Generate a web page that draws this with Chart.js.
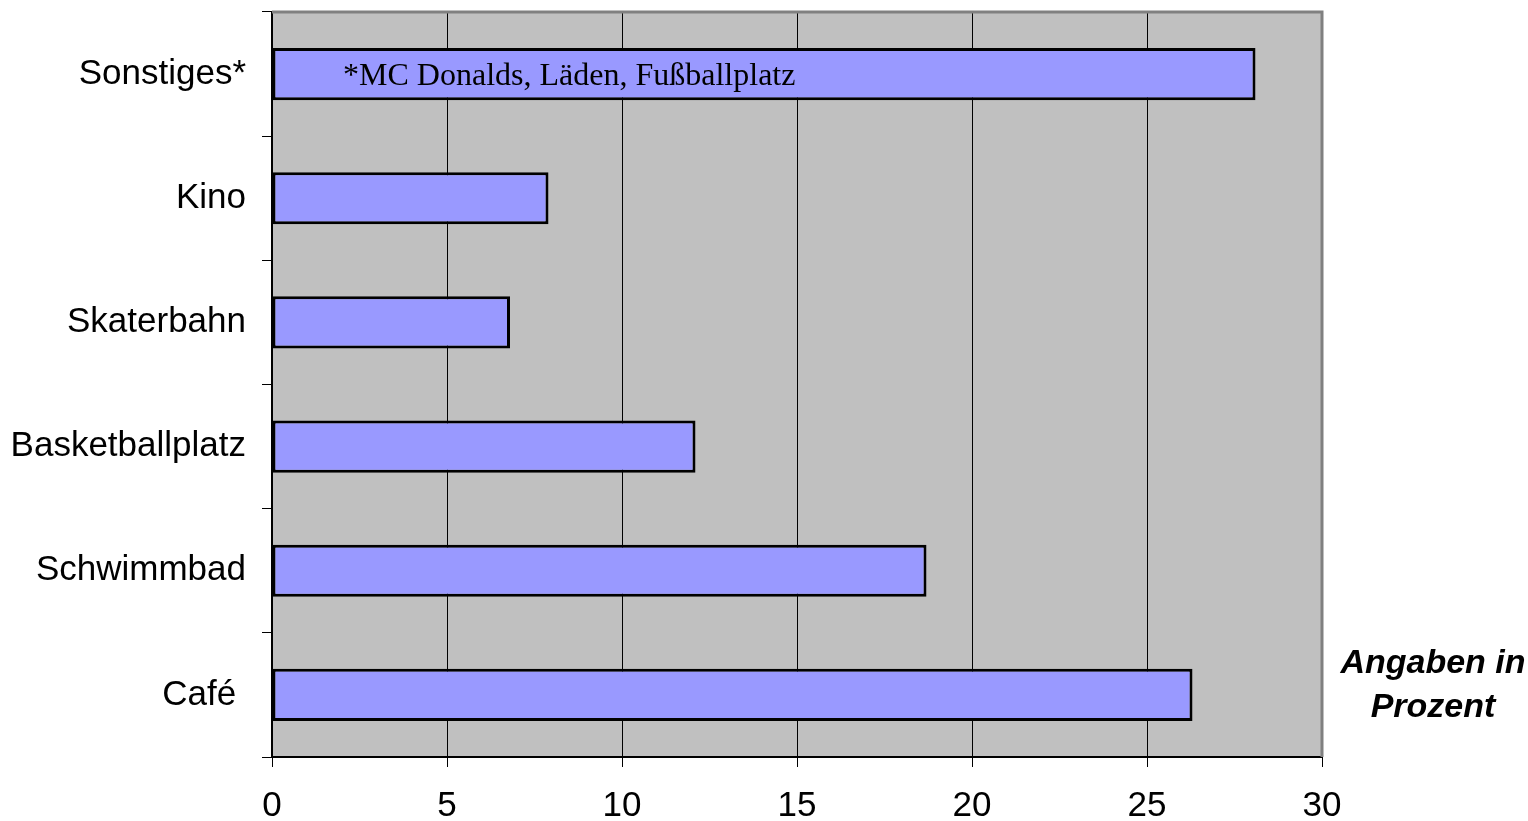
<!DOCTYPE html>
<html>
<head>
<meta charset="utf-8">
<script src="https://cdn.jsdelivr.net/npm/chart.js@4/dist/chart.umd.min.js"></script>
<style>
  html, body { margin: 0; padding: 0; background: #fff; }
  #wrap { width: 1528px; height: 821px; }
</style>
</head>
<body>
<div id="wrap"><canvas id="chart"></canvas></div>
<script>
// Data
const categories = ['Sonstiges*', 'Kino', 'Skaterbahn', 'Basketballplatz', 'Schwimmbad', 'Café '];
const percentValues = [28.1, 7.9, 6.8, 12.1, 18.7, 26.3];
const xTicks = [0, 5, 10, 15, 20, 25, 30];
const noteText = '*MC Donalds, Läden, Fußballplatz';
const unitLines = ['Angaben in', 'Prozent'];

// Gray plot area with a gray top/right frame
const plotBackground = {
    id: 'plotBackground',
    beforeDraw: function(chart) {
        const { ctx, chartArea: a } = chart;
        ctx.save();
        ctx.fillStyle = '#c0c0c0';
        ctx.fillRect(a.left, a.top, a.right - a.left, a.bottom - a.top);
        ctx.restore();
    },
    afterDatasetsDraw: function(chart) {
        const { ctx, chartArea: a } = chart;
        ctx.save();
        ctx.strokeStyle = '#808080';
        ctx.lineWidth = 3;
        ctx.beginPath();
        ctx.moveTo(a.left, a.top);
        ctx.lineTo(a.right, a.top);
        ctx.lineTo(a.right, a.bottom);
        ctx.stroke();
        ctx.restore();
    }
};

// Footnote inside the top bar and the unit note on the right
const textNotes = {
    id: 'textNotes',
    afterDraw: function(chart) {
        const { ctx, chartArea: a } = chart;
        const x = chart.scales.x;
        const y = chart.scales.y;
        ctx.save();
        ctx.fillStyle = '#000';
        ctx.font = '32px "Liberation Serif", "Times New Roman", serif';
        ctx.textAlign = 'left';
        ctx.textBaseline = 'middle';
        ctx.fillText(noteText, x.getPixelForValue(2.03), y.getPixelForValue(0) + 3);

        ctx.font = 'italic bold 34px "Liberation Sans", Arial, sans-serif';
        ctx.textAlign = 'center';
        const cx = (a.right + chart.width) / 2 + 8;
        unitLines.forEach(function(line, i) {
            ctx.fillText(line, cx, 664 + i * 44);
        });
        ctx.restore();
    }
};

new Chart(document.getElementById('chart'), {
    type: 'bar',
    data: {
        labels: categories,
        datasets: [{
            data: percentValues,
            backgroundColor: '#9999ff',
            borderColor: '#000000',
            borderWidth: 3,
            borderSkipped: false,
            categoryPercentage: 1,
            barPercentage: 0.42
        }]
    },
    options: {
        indexAxis: 'y',
        responsive: true,
        maintainAspectRatio: false,
        animation: false,
        layout: { padding: { top: 12, right: 206, left: 0, bottom: 0 } },
        plugins: {
            legend: { display: false },
            tooltip: { enabled: false }
        },
        scales: {
            x: {
                min: 0,
                max: 30,
                afterBuildTicks: function(scale) {
                    scale.ticks = xTicks.map(v => ({ value: v }));
                },
                afterFit: function(scale) {
                    scale.height = 64;
                    scale.paddingLeft = 0;
                    scale.paddingRight = 0;
                },
                grid: {
                    color: '#000000',
                    lineWidth: 1,
                    tickLength: 10,
                    drawOnChartArea: true
                },
                border: { display: true, color: '#000000', width: 2 },
                ticks: {
                    color: '#000',
                    padding: 18,
                    font: { family: '"Liberation Sans", Arial, sans-serif', size: 35 }
                }
            },
            y: {
                afterFit: function(scale) {
                    scale.width = 272;
                    scale.paddingTop = 0;
                    scale.paddingBottom = 0;
                },
                grid: {
                    offset: true,
                    color: '#000000',
                    lineWidth: 1,
                    tickLength: 10,
                    drawOnChartArea: false
                },
                border: { display: true, color: '#000000', width: 2 },
                ticks: {
                    color: '#000',
                    padding: 16,
                    font: { family: '"Liberation Sans", Arial, sans-serif', size: 35 }
                }
            }
        }
    },
    plugins: [plotBackground, textNotes]
});
</script>
</body>
</html>
